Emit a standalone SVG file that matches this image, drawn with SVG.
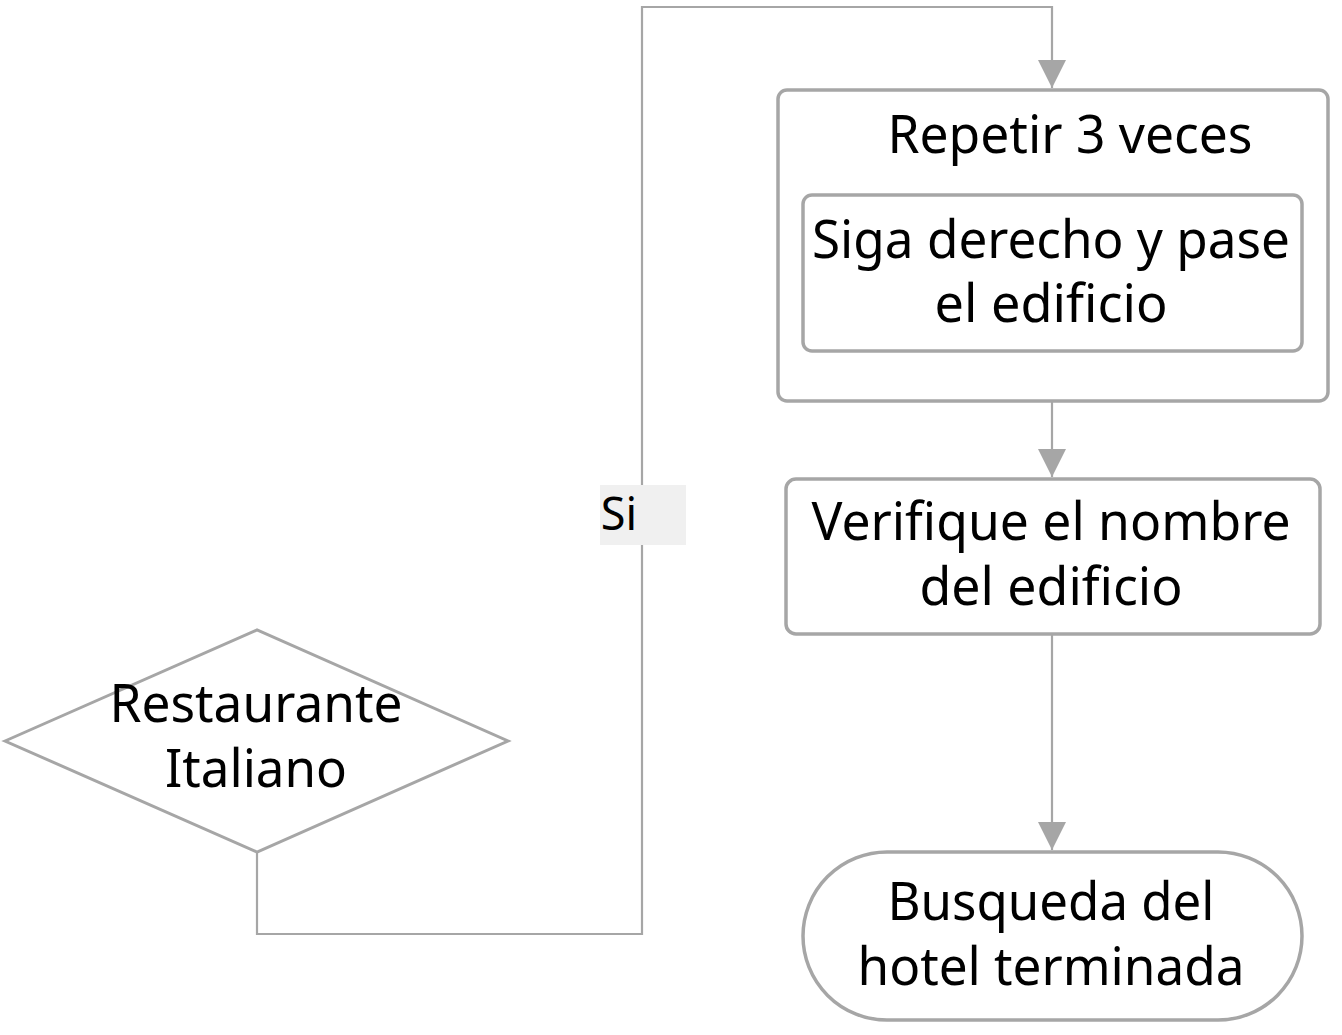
<svg xmlns="http://www.w3.org/2000/svg" width="1342" height="1035" viewBox="0 0 1342 1035">
<style>
.box{fill:#fff;stroke:#a6a6a6;stroke-width:3.5}
.con{fill:none;stroke:#a6a6a6;stroke-width:2.2}
.t{font-family:"Noto Sans","Open Sans","DejaVu Sans",sans-serif;font-size:52.5px;fill:#000;text-anchor:middle}
</style>
<defs>
<marker id="ah" markerUnits="userSpaceOnUse" markerWidth="30" markerHeight="28" refX="28" refY="14" orient="auto">
<path d="M0,0 L28,14 L0,28 Z" fill="#a6a6a6"/>
</marker>
</defs>
<rect width="1342" height="1035" fill="#fff"/>
<g id="connectors">
<path class="con" d="M257,852 V934 H642 V7 H1052 V88" marker-end="url(#ah)"/>
<path class="con" d="M1052,401 V477" marker-end="url(#ah)"/>
<path class="con" d="M1052,634 V850" marker-end="url(#ah)"/>
<g id="label-si">
<rect x="600" y="485" width="86" height="60" fill="#f0f0f0"/>
<text x="619" y="530" class="t" style="font-size:45px">Si</text>
</g>
</g>
<g id="loop">
<rect class="box" x="778" y="90" width="550" height="311" rx="9"/>
<text class="t" x="1070" y="153" textLength="365" lengthAdjust="spacingAndGlyphs">Repetir 3 veces</text>
</g>
<g id="step1">
<rect class="box" x="803" y="195" width="499" height="156" rx="9"/>
<text class="t" x="1051" y="258" textLength="478" lengthAdjust="spacingAndGlyphs">Siga derecho y pase</text>
<text class="t" x="1051" y="322" textLength="233" lengthAdjust="spacingAndGlyphs">el edificio</text>
</g>
<g id="step2">
<rect class="box" x="786" y="479" width="534" height="155" rx="10"/>
<text class="t" x="1051" y="540" textLength="479" lengthAdjust="spacingAndGlyphs">Verifique el nombre</text>
<text class="t" x="1051" y="605" textLength="263" lengthAdjust="spacingAndGlyphs">del edificio</text>
</g>
<g id="decision">
<polygon class="box" points="5,741 257,630 508,741 257,852" style="stroke-width:3"/>
<text class="t" x="256" y="722" textLength="293" lengthAdjust="spacingAndGlyphs">Restaurante</text>
<text class="t" x="256" y="787" textLength="182" lengthAdjust="spacingAndGlyphs">Italiano</text>
</g>
<g id="end">
<rect class="box" x="803" y="852" width="499" height="168" rx="84"/>
<text class="t" x="1051" y="920" textLength="327" lengthAdjust="spacingAndGlyphs">Busqueda del</text>
<text class="t" x="1051" y="985" textLength="387" lengthAdjust="spacingAndGlyphs">hotel terminada</text>
</g>
</svg>
